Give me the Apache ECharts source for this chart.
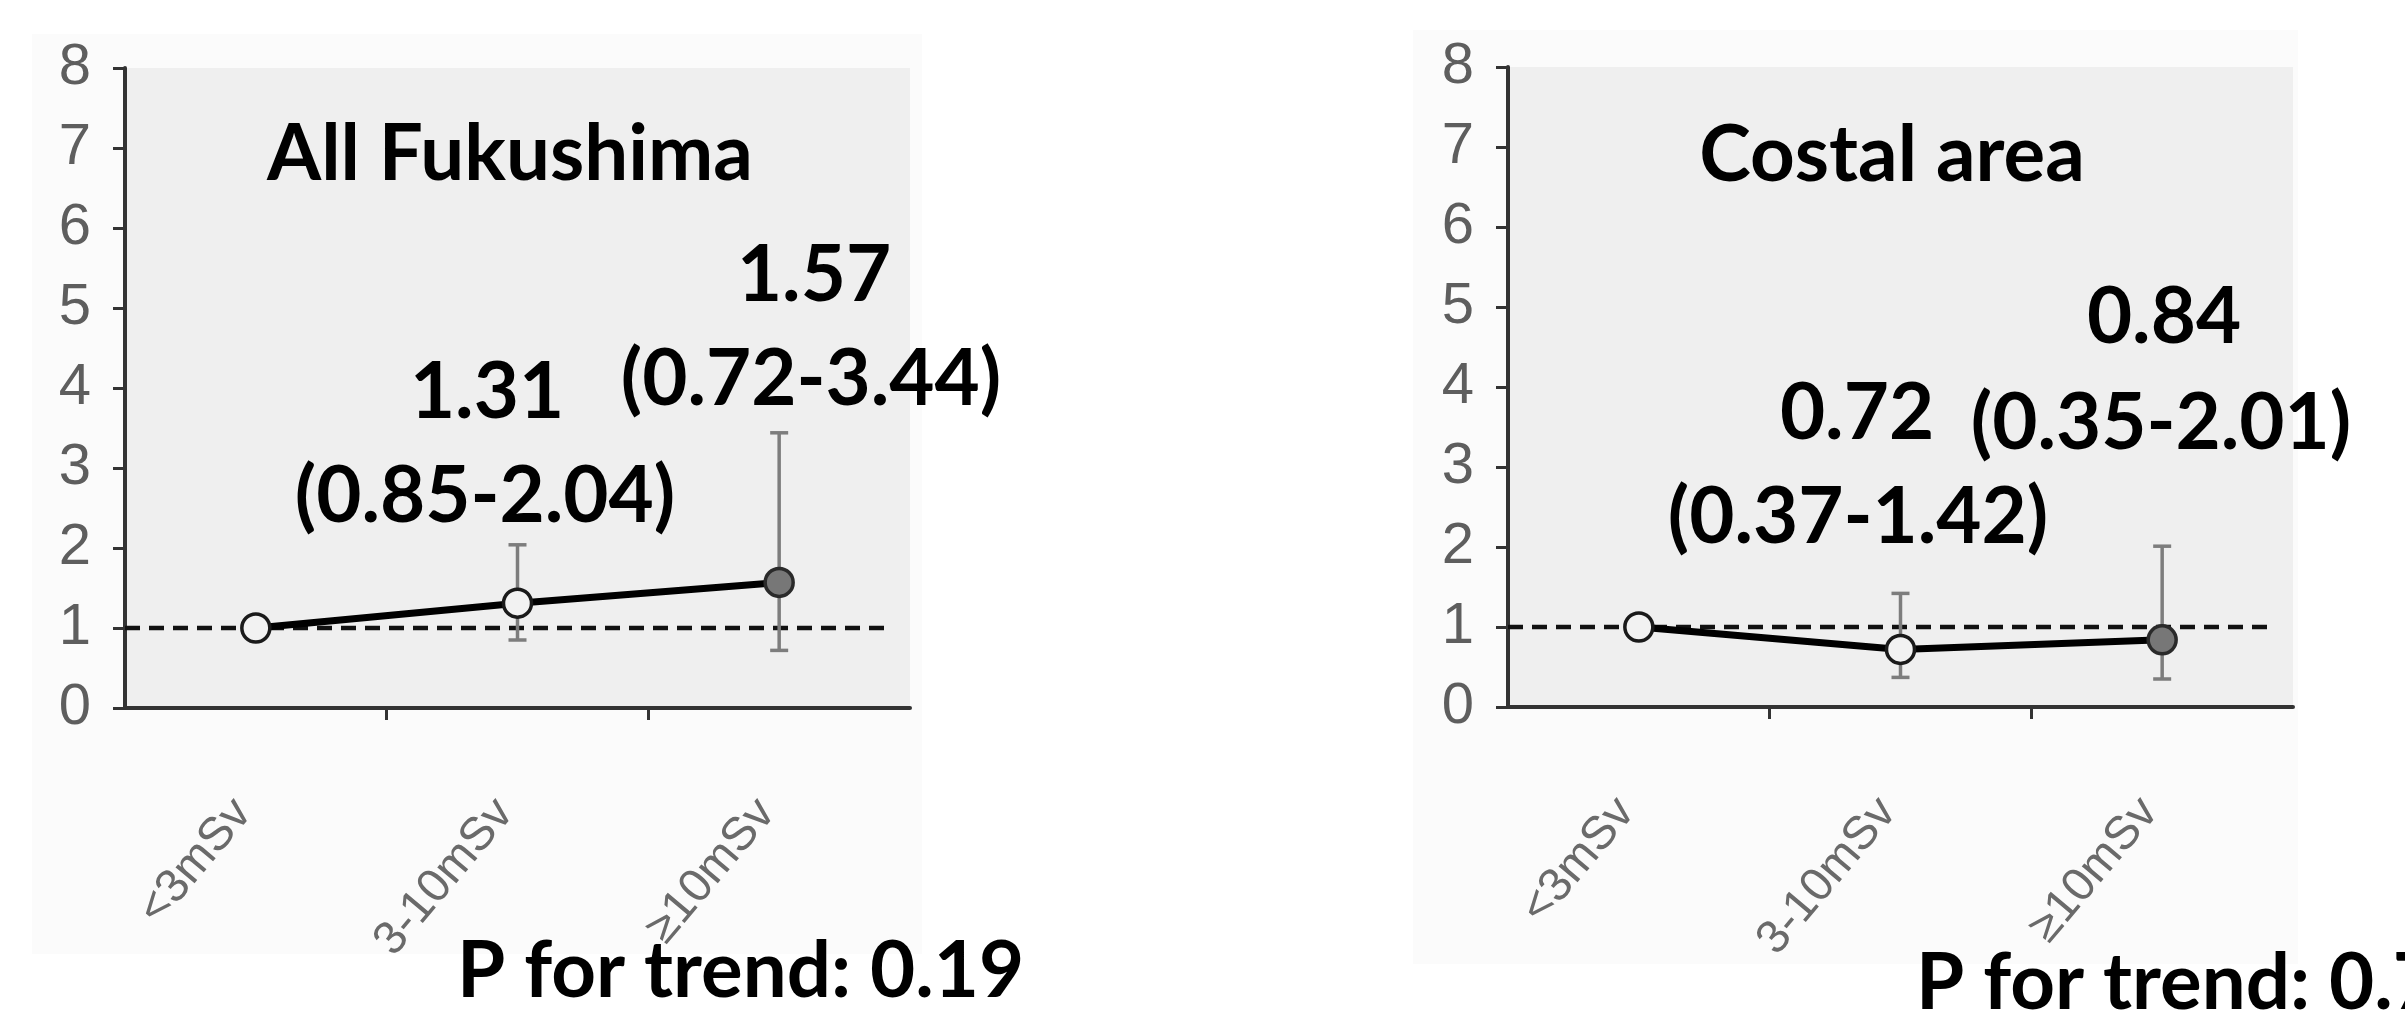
<!DOCTYPE html>
<html>
<head>
<meta charset="utf-8">
<script src="https://cdn.jsdelivr.net/npm/echarts@6/dist/echarts.min.js"></script>
<style>
html,body{margin:0;padding:0;background:#fff;}
#c{width:2405px;height:1010px;}
</style>
</head>
<body>
<div id="c"></div>
<script>
// ---- data ----
const categories = ['<3mSv', '3-10mSv', '≥10mSv'];
const yTicks = [0, 1, 2, 3, 4, 5, 6, 7, 8];
const refValue = 1;

const allTitle = 'All Fukushima';
const allOR = [1, 1.31, 1.57];
const allLow = [null, 0.85, 0.72];
const allHigh = [null, 2.04, 3.44];
const allP = '0.19';

const coastTitle = 'Costal area';
const coastOR = [1, 0.72, 0.84];
const coastLow = [null, 0.37, 0.35];
const coastHigh = [null, 1.42, 2.01];
const coastP = '0.7';

// ---- helpers ----
const chart = echarts.init(document.getElementById('c'), null, {renderer: 'canvas'});
const BOLD = '700 78px Lato';

function errData(low, high) {
  return categories.map((c, i) => [i, low[i], high[i]]).filter(d => d[1] != null);
}
function errRender(params, api) {
  const i = api.value(0);
  const top = api.coord([i, api.value(2)]);
  const bot = api.coord([i, api.value(1)]);
  const cw = 9;
  const st = {stroke: '#7d7d7d', lineWidth: 3.5};
  return {type: 'group', children: [
    {type: 'line', shape: {x1: top[0], y1: top[1], x2: bot[0], y2: bot[1]}, style: st},
    {type: 'line', shape: {x1: top[0] - cw, y1: top[1], x2: top[0] + cw, y2: top[1]}, style: st},
    {type: 'line', shape: {x1: bot[0] - cw, y1: bot[1], x2: bot[0] + cw, y2: bot[1]}, style: st}
  ]};
}
function refRender(params, api) {
  const cs = params.coordSys;
  const p = api.coord([0, api.value(1)]);
  return {type: 'line', shape: {x1: cs.x, y1: p[1], x2: cs.x + cs.width - 26, y2: p[1]},
    style: {stroke: '#111', lineWidth: 4.5, lineDash: [15, 9]}};
}
function pointData(or) {
  return or.map((v, i) => ({
    value: v,
    itemStyle: i === or.length - 1
      ? {color: '#777777', borderColor: '#2a2a2a', borderWidth: 3.5}
      : {color: '#f2f2f2', borderColor: '#1a1a1a', borderWidth: 3.5}
  }));
}
function fmt(v) { return v.toFixed(2); }
function ci(i, low, high) { return '(' + fmt(low[i]) + '-' + fmt(high[i]) + ')'; }

const xAxisBase = {
  type: 'category', data: categories, boundaryGap: true,
  axisLine: {lineStyle: {color: '#333', width: 4}},
  axisTick: {show: false},
  axisLabel: {rotate: 50, margin: 82, fontSize: 47, color: '#6a6a6a', fontFamily: 'Liberation Sans',
    interval: 0, padding: [0, 20, 0, 0]},
  splitLine: {show: false}
};
// overlay value axis used only to draw the interior category-boundary ticks
const xTickAxisBase = {
  type: 'value', min: 0, max: categories.length, interval: 1, position: 'bottom',
  axisLine: {show: false},
  axisTick: {show: true, length: 12, lineStyle: {color: '#333', width: 3}, customValues: [1, 2]},
  axisLabel: {show: false},
  splitLine: {show: false}
};
const yAxisBase = {
  type: 'value', min: yTicks[0], max: yTicks[yTicks.length - 1], interval: 1,
  axisLine: {show: true, lineStyle: {color: '#333', width: 4}},
  axisTick: {show: true, length: 12, lineStyle: {color: '#333', width: 3}},
  axisLabel: {margin: 34, fontSize: 58, color: '#5e5e5e', fontFamily: 'Liberation Sans'},
  splitLine: {show: false}
};

function txt(text, x, y, align, font) {
  return {type: 'text', x: x, y: y, z: 100,
    style: {text: text, font: font || BOLD, fill: '#000', align: align || 'center', verticalAlign: 'middle',
      textAlign: align || 'center', textVerticalAlign: 'middle'}};
}

const option = {
  backgroundColor: '#ffffff',
  animation: false,
  grid: [
    {left: 125, top: 68, width: 785, height: 640, show: true, backgroundColor: '#efefef', borderWidth: 0},
    {left: 1508, top: 67, width: 785, height: 640, show: true, backgroundColor: '#efefef', borderWidth: 0}
  ],
  xAxis: [
    Object.assign({gridIndex: 0}, xAxisBase), Object.assign({gridIndex: 1}, xAxisBase),
    Object.assign({gridIndex: 0}, xTickAxisBase), Object.assign({gridIndex: 1}, xTickAxisBase)
  ],
  yAxis: [Object.assign({gridIndex: 0}, yAxisBase), Object.assign({gridIndex: 1}, yAxisBase)],
  graphic: [
    {type: 'rect', z: -10, shape: {x: 32, y: 34, width: 890, height: 920}, style: {fill: '#fbfbfb'}},
    {type: 'rect', z: -10, shape: {x: 1413, y: 30, width: 885, height: 934}, style: {fill: '#fbfbfb'}},
    txt(allTitle, 510, 155),
    txt(fmt(allOR[2]), 814, 276),
    txt(ci(2, allLow, allHigh), 811, 380),
    txt(fmt(allOR[1]), 487, 393),
    txt(ci(1, allLow, allHigh), 485, 497),
    txt('P for trend: ' + allP, 457, 972, 'left'),
    txt(coastTitle, 1892, 156),
    txt(fmt(coastOR[2]), 2164, 318),
    txt(fmt(coastOR[1]), 1857, 414),
    txt(ci(2, coastLow, coastHigh), 2161, 424),
    txt(ci(1, coastLow, coastHigh), 1858, 518),
    txt('P for trend: ' + coastP, 1916, 984, 'left')
  ],
  series: [
    {type: 'custom', xAxisIndex: 0, yAxisIndex: 0, z: 1, data: [[0, refValue]], renderItem: refRender, silent: true},
    {type: 'custom', xAxisIndex: 0, yAxisIndex: 0, z: 2, data: errData(allLow, allHigh), renderItem: errRender, silent: true},
    {type: 'line', xAxisIndex: 0, yAxisIndex: 0, z: 3, data: pointData(allOR), symbol: 'circle', symbolSize: 28,
      lineStyle: {color: '#000', width: 7}, itemStyle: {color: '#f2f2f2'}},
    {type: 'custom', xAxisIndex: 1, yAxisIndex: 1, z: 1, data: [[0, refValue]], renderItem: refRender, silent: true},
    {type: 'custom', xAxisIndex: 1, yAxisIndex: 1, z: 2, data: errData(coastLow, coastHigh), renderItem: errRender, silent: true},
    {type: 'line', xAxisIndex: 1, yAxisIndex: 1, z: 3, data: pointData(coastOR), symbol: 'circle', symbolSize: 28,
      lineStyle: {color: '#000', width: 7}, itemStyle: {color: '#f2f2f2'}}
  ]
};
chart.setOption(option);
</script>
</body>
</html>
